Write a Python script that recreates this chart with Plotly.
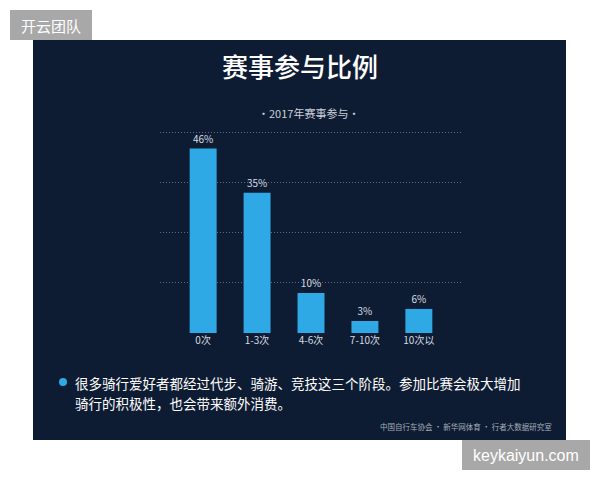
import plotly.graph_objects as go

categories = ["0次", "1-3次", "4-6次", "7-10次", "10次以"]
values = [46, 35, 10, 3, 6]
labels = ["46%", "35%", "10%", "3%", "6%"]

W, H = 600, 480
def px(x): return x / W
def py(y): return 1 - y / H

CJK = "Noto Sans CJK SC"
fig = go.Figure()
fig.add_trace(go.Bar(
    x=list(range(len(categories))), y=values, width=0.5,
    marker=dict(color="#2ea9e6", line=dict(width=0)),
    text=labels, textposition="outside", cliponaxis=False,
    textfont=dict(family=CJK, size=10, color="#d5dbe2"),
    hoverinfo="skip",
))

shapes = [
    dict(type="rect", xref="paper", yref="paper", x0=px(33), x1=px(566), y0=py(440), y1=py(40),
         fillcolor="#0e1c33", line=dict(width=0), layer="below"),
    dict(type="rect", xref="paper", yref="paper", x0=px(10), x1=px(92), y0=py(40), y1=py(10),
         fillcolor="#a8a8a8", line=dict(width=0), layer="above"),
    dict(type="rect", xref="paper", yref="paper", x0=px(462), x1=px(590), y0=py(470), y1=py(440),
         fillcolor="#a8a8a8", line=dict(width=0), layer="above"),
    dict(type="circle", xref="paper", yref="paper", x0=px(59), x1=px(67), y0=py(386), y1=py(378),
         fillcolor="#2ea9e6", line=dict(width=0)),
]

ann = [
    dict(text="开云团队", x=px(51), y=py(25), font=dict(family=CJK, size=15, color="#ffffff")),
    dict(text="keykaiyun.com", x=px(526), y=py(455), font=dict(family="Liberation Sans", size=16, color="#ffffff")),
    dict(text="赛事参与比例", x=px(300), y=py(66), font=dict(family=CJK, size=26, color="#ffffff", weight=500)),
    dict(text="·2017年赛事参与·", x=px(308), y=py(113), font=dict(family=CJK, size=11, color="#c9d0d8")),
    dict(text="很多骑行爱好者都经过代步、骑游、竞技这三个阶段。参加比赛会极大增加", x=px(73), y=py(383),
         xanchor="left", font=dict(family=CJK, size=13.5, color="#ffffff")),
    dict(text="骑行的积极性，也会带来额外消费。", x=px(73), y=py(403),
         xanchor="left", font=dict(family=CJK, size=13.5, color="#ffffff")),
    dict(text="中国自行车协会 · 新华网体育 · 行者大数据研究室", x=px(554), y=py(426),
         xanchor="right", font=dict(family=CJK, size=7.5, color="#a3acb8")),
]
for a in ann:
    a.setdefault("xanchor", "center")
    a.update(xref="paper", yref="paper", yanchor="middle", showarrow=False)

fig.update_layout(
    width=W, height=H, autosize=False,
    margin=dict(l=0, r=0, t=0, b=0),
    paper_bgcolor="#ffffff", plot_bgcolor="rgba(0,0,0,0)",
    showlegend=False, bargap=0.5,
    shapes=shapes, annotations=ann,
    xaxis=dict(domain=[px(160), px(462)], range=[-0.8, 4.8],
               tickmode="array", tickvals=list(range(len(categories))), ticktext=categories,
               tickfont=dict(family=CJK, size=10, color="#d5dbe2"),
               showgrid=False, zeroline=False, showline=False, ticks="", ticklen=0),
    yaxis=dict(domain=[py(333), py(124.5)], range=[0, 52], tick0=0, dtick=12.5,
               showticklabels=False, showgrid=True, gridcolor="rgba(190,200,212,0.45)",
               griddash="1px,2px", gridwidth=1, zeroline=False, showline=False, ticks=""),
)

fig.write_html("out.html", config={"displayModeBar": False},
               post_script="document.body.style.margin='0';")
